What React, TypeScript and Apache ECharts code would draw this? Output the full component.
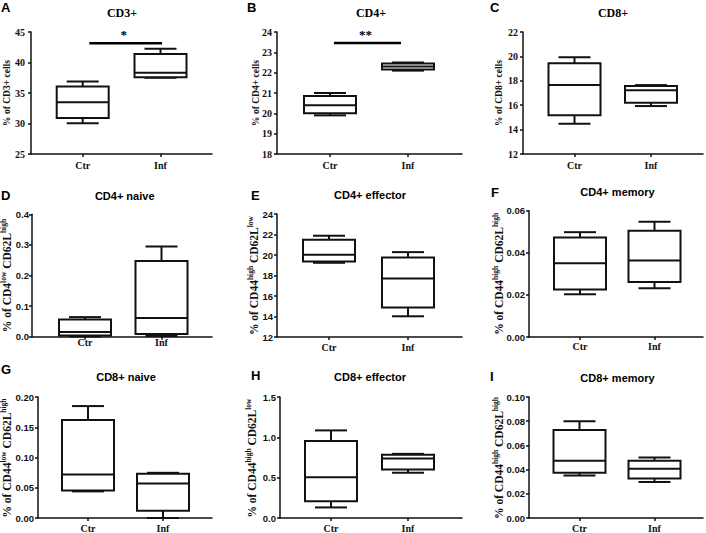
import React, { useEffect, useRef } from 'react';
import * as echarts from 'echarts';

// ---------- data ----------
const categories = ['Ctr', 'Inf'];
const panelLetters = ['A', 'B', 'C', 'D', 'E', 'F', 'G', 'H', 'I'];
const panelTitles = ['CD3+', 'CD4+', 'CD8+', 'CD4+ naive', 'CD4+ effector', 'CD4+ memory', 'CD8+ naive', 'CD8+ effector', 'CD8+ memory'];
const yAxisNames = [
  '{a|% of CD3+ cells}',
  '{a|% of CD4+ cells}',
  '{a|% of CD8+ cells}',
  '{a|% of CD4}{s|low}{a| CD62L}{s|high}',
  '{a|% of CD44}{s|high}{a| CD62L}{s|low}',
  '{a|% of CD44}{s|high}{a| CD62L}{s|high}',
  '{a|% of CD44}{s|low}{a| CD62L}{s|high}',
  '{a|% of CD44}{s|high}{a| CD62L}{s|low}',
  '{a|% of CD44}{s|high}{a| CD62L}{s|high}',
];
// y axis ranges
const yMin = [25, 18, 12, 0, 12, 0, 0, 0, 0];
const yMax = [45, 24, 22, 0.4, 24, 0.06, 0.2, 1.5, 0.1];
const yInterval = [5, 1, 2, 0.1, 2, 0.02, 0.05, 0.5, 0.02];
const yDecimals = [0, 0, 0, 1, 0, 2, 2, 1, 2];

// box statistics: [min, Q1, median, Q3, max]
const cd3Ctr = [30.05, 30.9, 33.5, 36.05, 36.9];
const cd3Inf = [37.5, 37.6, 38.3, 41.4, 42.25];
const cd4Ctr = [19.9, 20.0, 20.4, 20.85, 21.0];
const cd4Inf = [22.1, 22.15, 22.3, 22.45, 22.5];
const cd8Ctr = [14.48, 15.17, 17.66, 19.43, 19.93];
const cd8Inf = [15.93, 16.2, 17.22, 17.57, 17.65];
const cd4NaiveCtr = [0.001, 0.004, 0.015, 0.056, 0.064];
const cd4NaiveInf = [0.002, 0.009, 0.061, 0.247, 0.295];
const cd4EffCtr = [19.24, 19.37, 20.02, 21.49, 21.88];
const cd4EffInf = [14.02, 14.87, 17.71, 19.76, 20.28];
const cd4MemCtr = [0.0203, 0.0226, 0.035, 0.0473, 0.0498];
const cd4MemInf = [0.0231, 0.0261, 0.0364, 0.0505, 0.0547];
const cd8NaiveCtr = [0.044, 0.0456, 0.072, 0.162, 0.185];
const cd8NaiveInf = [0.0, 0.012, 0.057, 0.073, 0.0747];
const cd8EffCtr = [0.131, 0.209, 0.504, 0.955, 1.086];
const cd8EffInf = [0.561, 0.602, 0.738, 0.783, 0.795];
const cd8MemCtr = [0.0351, 0.0373, 0.0474, 0.0728, 0.08];
const cd8MemInf = [0.0297, 0.0327, 0.0406, 0.0474, 0.0501];

const ctrData = [cd3Ctr, cd4Ctr, cd8Ctr, cd4NaiveCtr, cd4EffCtr, cd4MemCtr, cd8NaiveCtr, cd8EffCtr, cd8MemCtr];
const infData = [cd3Inf, cd4Inf, cd8Inf, cd4NaiveInf, cd4EffInf, cd4MemInf, cd8NaiveInf, cd8EffInf, cd8MemInf];

// significance bars
const sigPanel = [0, 1];
const sigFrom = [1.085, 1.05];
const sigTo = [2.02, 1.91];
const sigY = [43.15, 23.46];
const sigText = ['*', '**'];

// ---------- layout (pixels) ----------
// [axisLeft, axisRight, top, bottom, ctrCenter, infCenter]
const layout = [
  [31, 212, 32, 154, 82.7, 160.5],
  [277, 462, 32, 154, 330, 408],
  [523, 703, 32, 154, 574.5, 651],
  [32, 212, 214.3, 336.7, 85, 161.5],
  [277, 462, 214, 337, 329, 408],
  [529, 703, 210.7, 337, 580, 654.5],
  [38, 212, 397, 519, 88, 163],
  [280, 462, 397, 519, 331, 408],
  [529, 703, 397, 519, 579.5, 654.5],
];
const yNameX = [5, 254, 497, 6, 253, 498, 6, 251, 498];
const yLabelMargin = [6, 5, 5, 3, 4, 4, 4, 4, 4];
const xLabelMargin = [6, 6, 6, 1, 5, 4, 5, 5, 5];
const letterPos = [[1, 7], [247, 7], [490, 7], [1, 195], [251, 195.5], [491, 192], [1, 369.5], [251, 375], [490, 376]];
const titlePos = [[122, 13], [371, 12.5], [613, 13], [124.7, 195.7], [370, 195], [617.5, 191.7], [126, 377], [370, 377], [617.5, 378]];

const SERIF = "'Liberation Serif', 'Times New Roman', serif";
const SANS = "'Liberation Sans', Arial, sans-serif";
const INK = '#111';

function boxRender(params: any, api: any) {
  const x = api.value(0);
  const p = [1, 2, 3, 4, 5].map((i) => api.coord([x, api.value(i)]));
  const cx = p[0][0];
  const hw = 26;
  const cw = 16;
  const st = { stroke: INK, lineWidth: 2, fill: null };
  return {
    type: 'group',
    children: [
      { type: 'line', shape: { x1: cx, y1: p[0][1], x2: cx, y2: p[1][1] }, style: st },
      { type: 'line', shape: { x1: cx, y1: p[3][1], x2: cx, y2: p[4][1] }, style: st },
      { type: 'line', shape: { x1: cx - cw, y1: p[0][1], x2: cx + cw, y2: p[0][1] }, style: st },
      { type: 'line', shape: { x1: cx - cw, y1: p[4][1], x2: cx + cw, y2: p[4][1] }, style: st },
      {
        type: 'rect',
        shape: { x: cx - hw, y: p[3][1], width: 2 * hw, height: p[1][1] - p[3][1] },
        style: { stroke: INK, lineWidth: 2, fill: '#fff' },
      },
      { type: 'line', shape: { x1: cx - hw, y1: p[2][1], x2: cx + hw, y2: p[2][1] }, style: st },
    ],
  };
}

function sigRender(params: any, api: any) {
  const a = api.coord([api.value(0), api.value(2)]);
  const b = api.coord([api.value(1), api.value(2)]);
  const txt = (params.seriesName || '').toString();
  return {
    type: 'group',
    children: [
      { type: 'line', shape: { x1: a[0], y1: a[1], x2: b[0], y2: b[1] }, style: { stroke: '#000', lineWidth: 2.5 } },
      {
        type: 'text',
        x: (a[0] + b[0]) / 2 - 2,
        y: a[1] - 2,
        style: { text: txt, fill: '#000', font: `bold 13px ${SERIF}`, textAlign: 'center', textVerticalAlign: 'bottom' },
      },
    ],
  };
}

export default function App() {
  const ref = useRef<HTMLDivElement>(null);
  useEffect(() => {
    if (!ref.current) return;
    const chart = echarts.init(ref.current, undefined, { renderer: 'svg' });
    const grids: any[] = [];
    const xAxes: any[] = [];
    const yAxes: any[] = [];
    const series: any[] = [];
    const graphics: any[] = [];
    for (let i = 0; i < 9; i++) {
      const [L, R, T, B, c1, c2] = layout[i];
      const s = c2 - c1;
      const xmin = 1 - (c1 - L) / s;
      const xmax = 2 + (R - c2) / s;
      const sansTicks = i >= 3;
      grids.push({ left: L, top: T, width: R - L, height: B - T, containLabel: false });
      xAxes.push({
        gridIndex: i,
        type: 'value',
        min: xmin,
        max: xmax,
        splitLine: { show: false },
        axisLine: { show: true, onZero: false, lineStyle: { color: INK, width: 1.5 } },
        axisTick: { show: true, customValues: [1, 2], length: 3, lineStyle: { color: INK, width: 1.5 } },
        axisLabel: {
          customValues: [1, 2],
          formatter: (v: number) => categories[Math.round(v) - 1] || '',
          margin: xLabelMargin[i],
          fontFamily: SERIF,
          fontWeight: 'bold',
          fontSize: 10,
          color: INK,
        },
      });
      yAxes.push({
        gridIndex: i,
        type: 'value',
        min: yMin[i],
        max: yMax[i],
        interval: yInterval[i],
        splitLine: { show: false },
        axisLine: { show: true, lineStyle: { color: INK, width: 1.5 } },
        axisTick: { show: true, length: 3, lineStyle: { color: INK, width: 1.5 } },
        axisLabel: {
          formatter: (v: number) => v.toFixed(yDecimals[i]),
          margin: yLabelMargin[i],
          fontFamily: sansTicks ? SANS : SERIF,
          fontWeight: 'bold',
          fontSize: sansTicks ? 9.5 : 10,
          color: INK,
        },
      });
      series.push({
        type: 'custom',
        name: panelTitles[i],
        xAxisIndex: i,
        yAxisIndex: i,
        clip: false,
        silent: true,
        renderItem: boxRender,
        encode: { x: 0, y: [1, 2, 3, 4, 5] },
        data: [
          [1, ...ctrData[i]],
          [2, ...infData[i]],
        ],
      });
      graphics.push({
        type: 'text',
        x: letterPos[i][0],
        y: letterPos[i][1],
        style: { text: panelLetters[i], fill: '#000', font: `bold 13px ${SANS}`, textAlign: 'left', textVerticalAlign: 'middle' },
      });
      graphics.push({
        type: 'text',
        x: titlePos[i][0],
        y: titlePos[i][1],
        style: {
          text: panelTitles[i],
          fill: '#000',
          font: i < 3 ? `bold 12px ${SERIF}` : `bold 11px ${SANS}`,
          textAlign: 'center',
          textVerticalAlign: 'middle',
        },
      });
      const big = i < 3 ? 9.5 : 11.5;
      graphics.push({
        type: 'text',
        x: yNameX[i],
        y: (T + B) / 2,
        rotation: Math.PI / 2,
        style: {
          text: yAxisNames[i],
          fill: INK,
          textAlign: 'center',
          textVerticalAlign: 'middle',
          rich: {
            a: { fontFamily: SERIF, fontWeight: 'bold', fontSize: big, fill: INK, lineHeight: 14, verticalAlign: 'bottom' },
            s: { fontFamily: SERIF, fontWeight: 'bold', fontSize: 7.5, fill: INK, lineHeight: 8, verticalAlign: 'top' },
          },
        },
      });
    }
    for (let k = 0; k < sigPanel.length; k++) {
      const p = sigPanel[k];
      series.push({
        type: 'custom',
        name: sigText[k],
        xAxisIndex: p,
        yAxisIndex: p,
        clip: false,
        silent: true,
        renderItem: sigRender,
        encode: { x: [0, 1], y: 2 },
        data: [[sigFrom[k], sigTo[k], sigY[k]]],
      });
    }
    chart.setOption({
      animation: false,
      backgroundColor: '#fff',
      grid: grids,
      xAxis: xAxes,
      yAxis: yAxes,
      series,
      graphic: graphics,
    });
    return () => chart.dispose();
  }, []);
  return <div ref={ref} style={{ position: 'fixed', left: 0, top: 0, width: 706, height: 533, background: '#fff' }} />;
}
